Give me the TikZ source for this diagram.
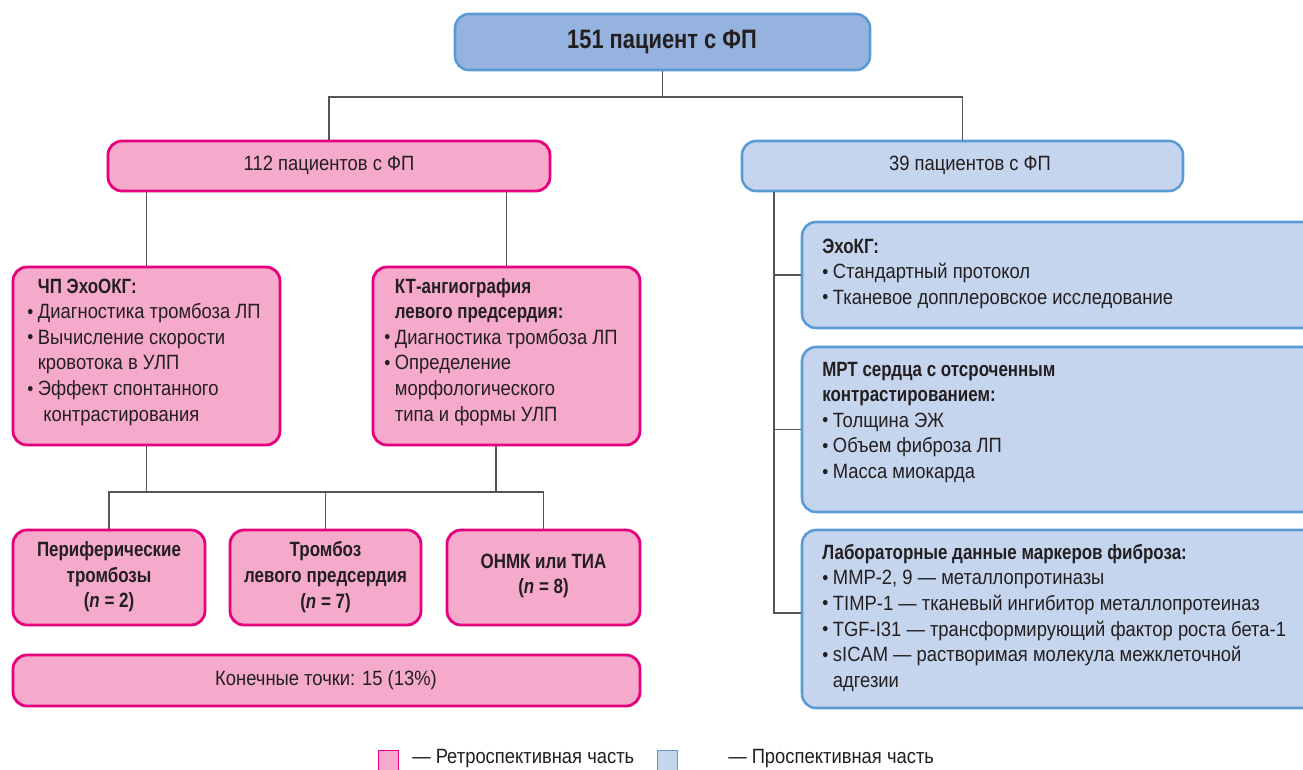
\documentclass[tikz,border=0pt]{standalone}
\usepackage{fontspec}
\setmainfont{Liberation Sans}[FakeStretch=0.89,BoldFeatures={FakeStretch=0.82},BoldItalicFeatures={FakeStretch=0.82}]
\usetikzlibrary{fit,calc}
\definecolor{pinkfill}{HTML}{F5AACB}
\definecolor{pinkline}{HTML}{E6007E}
\definecolor{bluefill}{HTML}{C5D5EE}
\definecolor{blueline}{HTML}{5B9BD5}
\definecolor{topfill}{HTML}{95B3DE}
\definecolor{txt}{HTML}{231F20}
\definecolor{conncol}{HTML}{555555}
\newcommand\mybul{\makebox[8pt][l]{\raisebox{0.4pt}{\fontsize{14.5pt}{14.5pt}\selectfont•}}}
\newcommand\myind{\hspace*{8pt}}
\tikzset{
  basebox/.style={rounded corners=10.5pt, inner sep=0pt, text=txt, align=center},
  pinkbox/.style={basebox, draw=pinkline, fill=pinkfill, line width=2.1pt},
  bluebox/.style={basebox, draw=blueline, fill=bluefill, line width=1.9pt},
  topbox/.style={basebox, draw=blueline, fill=topfill, line width=1.9pt},
  listtext/.style={anchor=north west, inner sep=0pt, align=left, text=txt,
    font=\fontsize{15.5pt}{19.2pt}\selectfont},
  ctext/.style={text=txt, align=center, inner sep=0pt, font=\fontsize{15.5pt}{19.2pt}\selectfont},
  btext/.style={ctext, font=\fontsize{15.5pt}{19.2pt}\selectfont\bfseries},
  conn/.style={draw=conncol, line width=1.1pt},
  legsq/.style={minimum width=15pt, minimum height=15pt, inner sep=0pt, line width=0.8pt},
  legtext/.style={anchor=west, inner sep=0pt, text=txt, font=\fontsize{15.5pt}{18pt}\selectfont}
}
\begin{document}
\begin{tikzpicture}[x=0.75pt,y=-0.75pt]
\useasboundingbox (0,0) rectangle (1303,769);
\clip (0,0) rectangle (1303,769);
\fill[white] (0,0) rectangle (1303,769);

% boxes
\node[topbox, fit={(455,14) (870,70)}] (top) {};
\node[text=txt, inner sep=0pt, font=\fontsize{20pt}{24pt}\selectfont\bfseries] (toptxt) at (662,42) {151 пациент с ФП};

\node[pinkbox, fit={(108,141) (550,191)}] (n112) {};
\node[ctext] (t112) at (329,165) {112 пациентов с ФП};
\node[bluebox, fit={(742,141) (1183,191)}] (n39) {};
\node[ctext] (t39) at (970,165) {39 пациентов с ФП};

\node[pinkbox, fit={(13,267) (280,445)}] (chp) {};
\node[listtext] (chptxt) at (27,275) {\strut\textbf{\myind ЧП ЭхоОКГ:}\\
\strut\mybul Диагностика тромбоза ЛП\\
\strut\mybul Вычисление скорости\\
\strut\myind кровотока в УЛП\\
\strut\mybul Эффект спонтанного\\
\strut\myind\hspace*{4pt}контрастирования};

\node[pinkbox, fit={(373,267) (640,445)}] (kt) {};
\node[listtext] (kttxt) at (384,275) {\strut\textbf{\myind КТ-ангиография}\\
\strut\textbf{\myind левого предсердия:}\\
\strut\mybul Диагностика тромбоза ЛП\\
\strut\mybul Определение\\
\strut\myind морфологического\\
\strut\myind типа и формы УЛП};

\node[pinkbox, fit={(13,530) (205,625)}] (peri) {};
\node[btext] (peritxt) at (109,577) {Периферические\\тромбозы\\(\textit{n} = 2)};
\node[pinkbox, fit={(230,530) (421,625)}] (trom) {};
\node[btext] (tromtxt) at (325.5,577) {Тромбоз\\левого предсердия\\(\textit{n} = 7)};
\node[pinkbox, fit={(447,530) (640,625)}] (onmk) {};
\node[btext] (onmktxt) at (543.5,576) {ОНМК или ТИА\\(\textit{n} = 8)};

\node[pinkbox, fit={(13,655) (640,706)}] (kon) {};
\node[ctext] (kontxt) at (326,680) {Конечные точки: 15 (13\%)};

\node[bluebox, fit={(802,222) (1320,328)}] (echo) {};
\node[listtext] (echotxt) at (822,235) {\strut\textbf{ЭхоКГ:}\\
\strut\mybul Стандартный протокол\\
\strut\mybul Тканевое допплеровское исследование};

\node[bluebox, fit={(802,347) (1320,512)}] (mrt) {};
\node[listtext] (mrttxt) at (822,358) {\strut\textbf{МРТ сердца с отсроченным}\\
\strut\textbf{контрастированием:}\\
\strut\mybul Толщина ЭЖ\\
\strut\mybul Объем фиброза ЛП\\
\strut\mybul Масса миокарда};

\node[bluebox, fit={(802,530) (1320,708)}] (lab) {};
\node[listtext] (labtxt) at (822,541) {\strut\textbf{Лабораторные данные маркеров фиброза:}\\
\strut\mybul MMP-2, 9 — металлопротиназы\\
\strut\mybul TIMP-1 — тканевый ингибитор металлопротеиназ\\
\strut\mybul TGF-I31 — трансформирующий фактор роста бета-1\\
\strut\mybul sICAM — растворимая молекула межклеточной\\
\strut\myind адгезии};

% connectors
\coordinate (h1) at (0,97);
\draw[conn] (top.south) -- (top.south |- h1);
\draw[conn] (n112.north) -- (n112.north |- h1) -- (n39.north |- h1) -- (n39.north);
\draw[conn] (chp.north) -- (chp.north |- n112.south);
\draw[conn] (kt.north) -- (kt.north |- n112.south);
\coordinate (h2) at (0,492);
\coordinate (kx) at (496,0);
\draw[conn] (chp.south) -- (chp.south |- h2);
\draw[conn] (kt.south -| kx) -- (kx |- h2);
\draw[conn] (peri.north) -- (peri.north |- h2) -- (onmk.north |- h2) -- (onmk.north);
\draw[conn] (trom.north) -- (trom.north |- h2);
\coordinate (rv) at (774,0);
\coordinate (labj) at ($(lab.west)+(0,-6)$);
\draw[conn] (n39.south -| rv) -- (labj -| rv) -- (labj);
\draw[conn] (echo.west -| rv) -- (echo.west);
\draw[conn] (mrt.west -| rv) -- (mrt.west);

% legend
\node[legsq, draw=pinkline, fill=pinkfill, anchor=north west] (legp) at (378,750) {};
\node[legtext] (legptxt) at (412,759) {— Ретроспективная часть};
\node[legsq, draw=blueline, fill=bluefill, anchor=north west] (legb) at (657,750) {};
\node[legtext] (legbtxt) at (728,759) {— Проспективная часть};
\end{tikzpicture}
\end{document}
